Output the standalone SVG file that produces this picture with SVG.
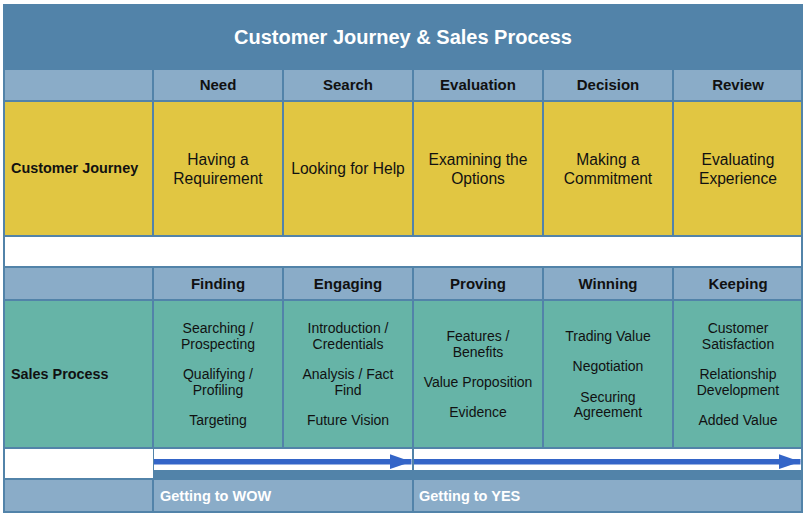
<svg xmlns="http://www.w3.org/2000/svg" width="806" height="515" viewBox="0 0 806 515">
<style>
text{font-family:"Liberation Sans",Arial,sans-serif;fill:#111;}
.title{font-size:20px;font-weight:bold;fill:#fff;text-anchor:middle;}
.hd{font-size:15px;font-weight:bold;text-anchor:middle;}
.lbl{font-size:14.4px;font-weight:bold;}
.yt{font-size:15.6px;text-anchor:middle;}
.tt{font-size:14px;text-anchor:middle;}
.ft{font-size:14.5px;font-weight:bold;fill:#fff;}
.hdc{fill:#8AACC8;}
.yc{fill:#E1C642;}
.tc{fill:#66B4A7;}
.wc{fill:#fff;}
</style>
<defs>
<marker id="ah" markerUnits="userSpaceOnUse" markerWidth="22" markerHeight="15" refX="22" refY="7.5" orient="auto">
<path d="M0,0 L22,7.5 L0,15 Z" fill="#3465C8"/>
</marker>
</defs>
<rect x="3" y="4" width="800" height="509" fill="#5283A9"/>
<g id="title"><text class="title" x="403" y="44">Customer Journey &amp; Sales Process</text></g>
<g id="header1">
<rect class="hdc" x="5" y="70" width="147" height="30"/>
<rect class="hdc" x="154" y="70" width="128" height="30"/><text class="hd" x="218" y="90">Need</text>
<rect class="hdc" x="284" y="70" width="128" height="30"/><text class="hd" x="348" y="90">Search</text>
<rect class="hdc" x="414" y="70" width="128" height="30"/><text class="hd" x="478" y="90">Evaluation</text>
<rect class="hdc" x="544" y="70" width="128" height="30"/><text class="hd" x="608" y="90">Decision</text>
<rect class="hdc" x="674" y="70" width="127" height="30"/><text class="hd" x="738" y="90">Review</text>
</g>
<g id="customer-journey">
<rect class="yc" x="5" y="102" width="147" height="133"/><text class="lbl" x="11" y="173">Customer Journey</text>
<rect class="yc" x="154" y="102" width="128" height="133"/><text class="yt" x="218" y="165">Having a</text><text class="yt" x="218" y="184">Requirement</text>
<rect class="yc" x="284" y="102" width="128" height="133"/><text class="yt" x="348" y="174">Looking for Help</text>
<rect class="yc" x="414" y="102" width="128" height="133"/><text class="yt" x="478" y="165">Examining the</text><text class="yt" x="478" y="184">Options</text>
<rect class="yc" x="544" y="102" width="128" height="133"/><text class="yt" x="608" y="165">Making a</text><text class="yt" x="608" y="184">Commitment</text>
<rect class="yc" x="674" y="102" width="127" height="133"/><text class="yt" x="738" y="165">Evaluating</text><text class="yt" x="738" y="184">Experience</text>
</g>
<g id="spacer"><rect class="wc" x="5" y="237" width="796" height="29"/></g>
<g id="header2">
<rect class="hdc" x="5" y="268" width="147" height="31"/>
<rect class="hdc" x="154" y="268" width="128" height="31"/><text class="hd" x="218" y="289">Finding</text>
<rect class="hdc" x="284" y="268" width="128" height="31"/><text class="hd" x="348" y="289">Engaging</text>
<rect class="hdc" x="414" y="268" width="128" height="31"/><text class="hd" x="478" y="289">Proving</text>
<rect class="hdc" x="544" y="268" width="128" height="31"/><text class="hd" x="608" y="289">Winning</text>
<rect class="hdc" x="674" y="268" width="127" height="31"/><text class="hd" x="738" y="289">Keeping</text>
</g>
<g id="sales-process">
<rect class="tc" x="5" y="301" width="147" height="146"/><text class="lbl" x="11" y="379">Sales Process</text>
<rect class="tc" x="154" y="301" width="128" height="146"/>
<text class="tt" x="218" y="333">Searching /</text><text class="tt" x="218" y="349">Prospecting</text>
<text class="tt" x="218" y="379">Qualifying /</text><text class="tt" x="218" y="395">Profiling</text>
<text class="tt" x="218" y="425">Targeting</text>
<rect class="tc" x="284" y="301" width="128" height="146"/>
<text class="tt" x="348" y="333">Introduction /</text><text class="tt" x="348" y="349">Credentials</text>
<text class="tt" x="348" y="379">Analysis / Fact</text><text class="tt" x="348" y="395">Find</text>
<text class="tt" x="348" y="425">Future Vision</text>
<rect class="tc" x="414" y="301" width="128" height="146"/>
<text class="tt" x="478" y="341">Features /</text><text class="tt" x="478" y="357">Benefits</text>
<text class="tt" x="478" y="387">Value Proposition</text>
<text class="tt" x="478" y="417">Evidence</text>
<rect class="tc" x="544" y="301" width="128" height="146"/>
<text class="tt" x="608" y="341">Trading Value</text>
<text class="tt" x="608" y="371">Negotiation</text>
<text class="tt" x="608" y="402">Securing</text><text class="tt" x="608" y="417">Agreement</text>
<rect class="tc" x="674" y="301" width="127" height="146"/>
<text class="tt" x="738" y="333">Customer</text><text class="tt" x="738" y="349">Satisfaction</text>
<text class="tt" x="738" y="379">Relationship</text><text class="tt" x="738" y="395">Development</text>
<text class="tt" x="738" y="425">Added Value</text>
</g>
<g id="arrow-row">
<rect class="wc" x="5" y="449" width="148" height="29"/>
<rect class="wc" x="154" y="449" width="258" height="21"/>
<rect class="wc" x="414" y="449" width="387" height="21"/>
</g>
<g id="connectors">
<line x1="154" y1="461.7" x2="411.5" y2="461.7" stroke="#3465C8" stroke-width="5.5" marker-end="url(#ah)"/>
<line x1="414" y1="461.7" x2="800.5" y2="461.7" stroke="#3465C8" stroke-width="5.5" marker-end="url(#ah)"/>
</g>
<g id="footer">
<rect class="hdc" x="5" y="480" width="147" height="31"/>
<rect class="hdc" x="154" y="480" width="258" height="31"/><text class="ft" x="160" y="501">Getting to WOW</text>
<rect class="hdc" x="414" y="480" width="387" height="31"/><text class="ft" x="419" y="501">Getting to YES</text>
</g>
</svg>
